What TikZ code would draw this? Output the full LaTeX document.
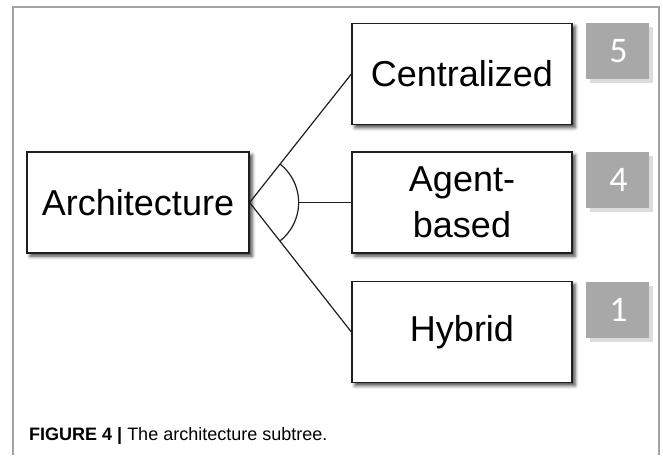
\documentclass[tikz,border=0pt]{standalone}
\usepackage{fontspec}
\setmainfont{Liberation Sans}
\newfontfamily\numfont{Carlito}
\usetikzlibrary{calc,shadows,shadows.blur}

\definecolor{framegray}{HTML}{A3A3A3}
\definecolor{tagfill}{HTML}{A8A8A8}
\definecolor{tagshade}{HTML}{DCDCDC}
\definecolor{boxline}{HTML}{1E1E1E}

\tikzset{
  treebox/.style={draw=boxline, line width=1.3pt, fill=white,
    minimum width=220pt, minimum height=101pt, inner sep=0pt,
    align=center, font=\fontsize{36}{46}\selectfont,
    blur shadow={shadow xshift=3pt, shadow yshift=-3pt,
      shadow blur radius=3.5pt, shadow opacity=75}},
  tagbox/.style={fill=tagfill, minimum width=63pt, minimum height=56pt,
    inner sep=0pt,
    drop shadow={shadow xshift=4pt, shadow yshift=-4pt, fill=tagshade, opacity=1}},
  tagnum/.style={anchor=base, inner sep=0pt, text=white,
    font=\numfont\fontsize{36}{40}\selectfont},
  link/.style={draw=boxline, line width=1.2pt},
  frameline/.style={draw=framegray, line width=1.5pt},
}

\begin{document}
\begin{tikzpicture}[x=1pt,y=1pt]
  \useasboundingbox (0,0) rectangle (663,-455);

  % open frame around the figure
  \draw[frameline] (13,-455) -- (13,-7) -- (659,-7) -- (659,-455);

  % tree nodes
  \node[treebox, minimum width=222pt] (arch) at (138,-202.5) {Architecture};
  \node[treebox] (cen) at (462,-74) {Centralized};
  \node[treebox] (agt) at (462,-202.5) {Agent-\\based};
  \node[treebox] (hyb) at (462,-332) {Hybrid};

  % count tags
  \node[tagbox] (t5) at (617.5,-51) {};
  \node[tagbox] (t4) at (617.5,-180) {};
  \node[tagbox] (t1) at (617.5,-310) {};
  \node[tagnum] (n5) at ($(t5.north)+(1,-40)$) {5};
  \node[tagnum] (n4) at ($(t4.north)+(1,-40)$) {4};
  \node[tagnum] (n1) at ($(t1.north)+(1,-40)$) {1};

  % branches
  \draw[link] (arch.east) -- (cen.west);
  \draw[link] (arch.east) -- (hyb.west);
  \coordinate (arcmid) at ($(arch.east)+(49pt,0)$);
  \draw[link] (arcmid) -- (agt.west);
  \draw[link] let \p1=($(cen.west)-(arch.east)$),
                  \p2=($(hyb.west)-(arch.east)$),
                  \n1={atan2(\y1,\x1)}, \n2={atan2(\y2,\x2)} in
    ($(arch.east)+(\n1:49pt)$) arc[start angle=\n1, end angle=\n2, radius=49pt];

  % caption
  \node[anchor=base west, inner sep=0pt, font=\fontsize{18}{22}\selectfont] (cap)
    at (29,-440) {\textbf{FIGURE 4 |} The architecture subtree.};
\end{tikzpicture}
\end{document}
